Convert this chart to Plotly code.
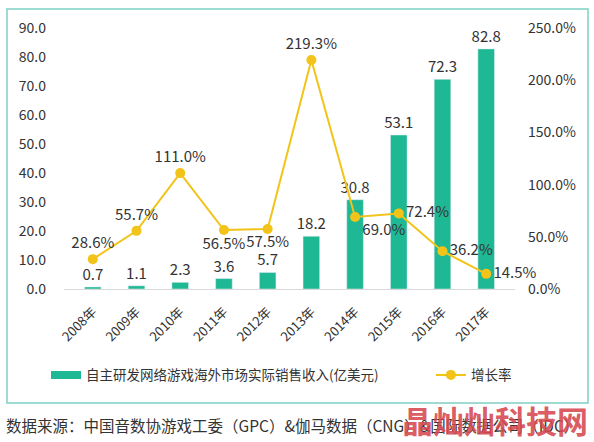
import plotly.graph_objects as go

years = ["2008年", "2009年", "2010年", "2011年", "2012年", "2013年", "2014年", "2015年", "2016年", "2017年"]
revenue = [0.7, 1.1, 2.3, 3.6, 5.7, 18.2, 30.8, 53.1, 72.3, 82.8]
growth = [28.6, 55.7, 111.0, 56.5, 57.5, 219.3, 69.0, 72.4, 36.2, 14.5]
growth_pos = ["top center", "top center", "top center", "bottom center", "bottom center",
              "top center", "bottom right", "middle right", "middle right", "middle right"]
left_ticks = [0, 10, 20, 30, 40, 50, 60, 70, 80, 90]
right_ticks = [0, 50, 100, 150, 200, 250]
bar_name = "自主研发网络游戏海外市场实际销售收入(亿美元)"
line_name = "增长率"

FONT = "Noto Sans CJK SC, Microsoft YaHei, sans-serif"
BAR_C = "#1fb894"
LINE_C = "#f2c318"
TXT = "#333333"

fig = go.Figure()
fig.add_trace(go.Bar(
    x=years, y=revenue, name=bar_name, showlegend=False,
    marker_color=BAR_C, width=0.38,
    text=[f"{v:.1f}" for v in revenue], textposition="outside", constraintext="none",
    textfont=dict(size=15, color=TXT), cliponaxis=False,
))
# legend entry drawn as a wide bar swatch
fig.add_trace(go.Scatter(
    x=[None], y=[None], name=bar_name + "\u2003\u2003\u2003\u2002", mode="lines",
    line=dict(color=BAR_C, width=8), showlegend=True,
))
fig.add_trace(go.Scatter(
    x=years, y=growth, name=line_name, yaxis="y2", mode="lines+markers+text",
    line=dict(color=LINE_C, width=2), marker=dict(color=LINE_C, size=10),
    text=[f"{v:.1f}%" for v in growth], textposition=growth_pos,
    textfont=dict(size=15, color=TXT), cliponaxis=False,
))

x0 = (7 - 64) / 451
x1 = (588 - 64) / 451
y0 = (289 - 403) / 261
y1 = (289 - 9) / 261

fig.update_layout(
    width=594, height=442,
    margin=dict(l=64, r=79, t=28, b=153, autoexpand=False),
    paper_bgcolor="white", plot_bgcolor="white",
    font=dict(family=FONT, size=14, color=TXT),
    bargap=0.6,
    xaxis=dict(tickangle=-45, showline=True, linecolor="#d9d9d9", linewidth=1,
               ticks="", showgrid=False, tickfont=dict(size=13, color=TXT), automargin=False,
               ticklabelstandoff=9),
    yaxis=dict(range=[0, 90], tickvals=left_ticks, ticktext=[f"{v:.1f}" for v in left_ticks],
               showgrid=False, zeroline=False, ticks="", automargin=False,
               tickfont=dict(size=14, color=TXT), ticklabelstandoff=17),
    yaxis2=dict(range=[0, 250], tickvals=right_ticks, ticktext=[f"{v:.1f}%" for v in right_ticks],
                overlaying="y", side="right", showgrid=False, zeroline=False, ticks="",
                automargin=False, tickfont=dict(size=14, color=TXT), ticklabelstandoff=12),
    legend=dict(orientation="h", x=(46 - 64) / 451, xanchor="left", y=-0.33, yanchor="middle",
                font=dict(size=13.5, color=TXT), itemwidth=30, traceorder="normal"),
    showlegend=True,
    shapes=[dict(type="rect", xref="paper", yref="paper", x0=x0, x1=x1, y0=y0, y1=y1,
                 line=dict(color="#7fd0c4", width=1.5), fillcolor="rgba(0,0,0,0)", layer="below")],
    annotations=[
        dict(text="数据来源：中国音数协游戏工委（GPC）&伽马数据（CNG）&国际数据公司（IDC）",
             xref="paper", yref="paper", x=(4 - 64) / 451, y=(289 - 425) / 261,
             xanchor="left", yanchor="middle", showarrow=False,
             font=dict(size=15.5, color=TXT, family=FONT)),
        dict(text="<b>晶灿灿科技网</b>",
             xref="paper", yref="paper", x=(590 - 64) / 451, y=(289 - 419) / 261,
             xanchor="right", yanchor="middle", showarrow=False,
             font=dict(size=31, color="rgba(214,72,80,0.9)", family=FONT)),
    ],
)

fig.write_html("out.html", config={"displayModeBar": False},
               post_script="document.body.style.margin='0';document.body.style.overflow='hidden';")
